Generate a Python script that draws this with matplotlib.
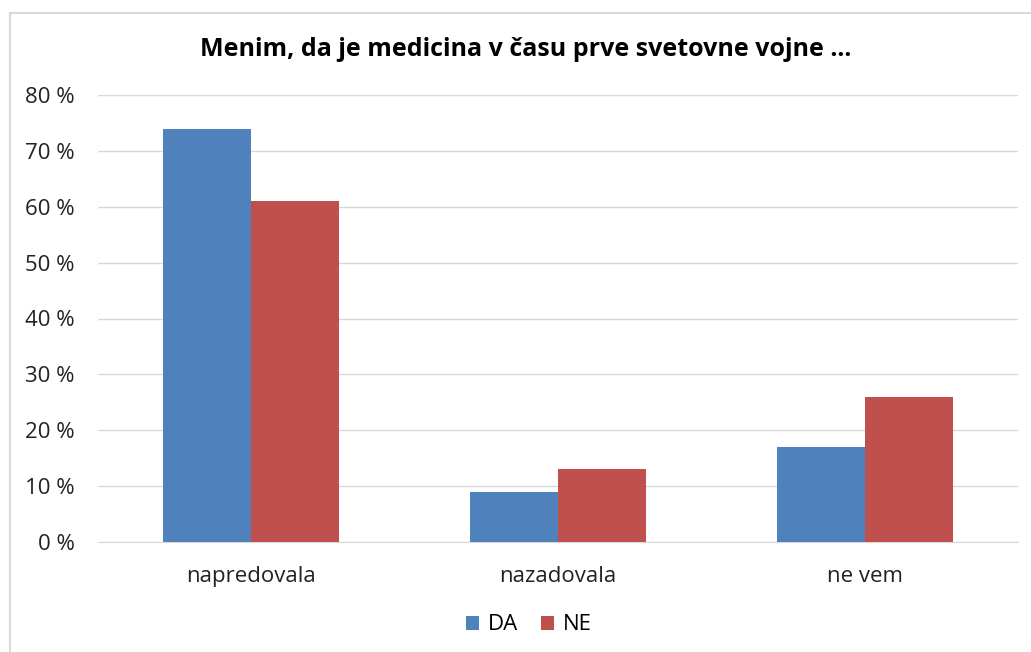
import matplotlib
matplotlib.use('Agg')
import matplotlib.pyplot as plt
import numpy as np
from matplotlib.patches import Rectangle

# Data
categories = ['napredovala', 'nazadovala', 'ne vem']
da_values = [74, 9, 17]
ne_values = [61, 13, 26]
series_names = ['DA', 'NE']
title_text = 'Menim, da je medicina v času prve svetovne vojne ...'

plt.rcParams['font.family'] = ['Open Sans', 'DejaVu Sans']

fig = plt.figure(figsize=(10.31, 6.52), dpi=100)
fig.patches.append(Rectangle((10 / 1031, -0.01), 1.02, 1 - 13 / 652 + 0.01,
                             transform=fig.transFigure, fill=False,
                             edgecolor='#d9d9d9', linewidth=1.5))

ax = fig.add_axes([98 / 1031, 1 - 542 / 652, 920 / 1031, 447 / 652])

x = np.arange(len(categories))
w = 0.287
ax.bar(x - w / 2, da_values, w, color='#4f81bd', label=series_names[0], zorder=3)
ax.bar(x + w / 2, ne_values, w, color='#c0504d', label=series_names[1], zorder=3)

ax.set_xlim(-0.5, 2.5)
ax.set_ylim(0, 80)
ax.set_yticks(range(0, 81, 10))
ax.set_yticklabels([f'{v} %' for v in range(0, 81, 10)])
ax.set_xticks(x)
ax.set_xticklabels(categories)
ax.tick_params(axis='both', length=0, labelsize=16, colors='#222222')
ax.tick_params(axis='x', pad=17)
ax.tick_params(axis='y', pad=17)
ax.grid(axis='y', color='#d9d9d9', linewidth=1, zorder=0)
for s in ['top', 'right', 'left']:
    ax.spines[s].set_visible(False)
ax.spines['bottom'].set_color('#d9d9d9')

fig.text(526 / 1031, 1 - 50 / 652, title_text, ha='center', va='center',
         fontsize=18, fontweight='bold', color='black')

fig.legend(loc='center', bbox_to_anchor=(529 / 1031, 1 - 625 / 652), ncol=2,
           frameon=False, fontsize=16, handlelength=0.6, handleheight=0.6,
           handletextpad=0.4, columnspacing=1.0)

fig.savefig('out.png', dpi=100)
